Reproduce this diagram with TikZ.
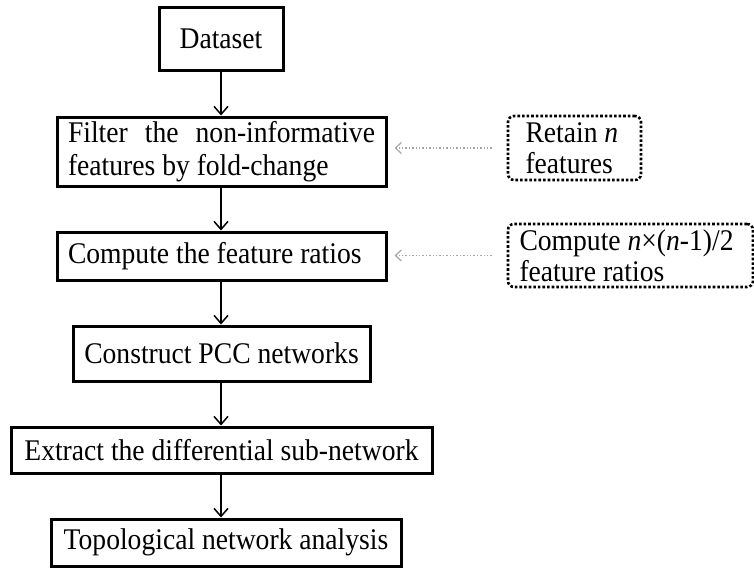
\documentclass[tikz,border=0pt]{standalone}
\usepackage{fontspec}
\setmainfont{Liberation Serif}[FakeStretch=0.92]
\usetikzlibrary{arrows.meta}
\begin{document}
\begin{tikzpicture}[x=1pt,y=1pt,
  stepbox/.style={draw=black,line width=3pt,inner sep=0pt,font=\fontsize{30}{34}\selectfont},
  notebox/.style={draw=black,line width=2.6pt,dotted,rounded corners=6pt,inner sep=0pt,font=\fontsize{30}{34}\selectfont},
  flow/.style={draw=black,line width=1.5pt,-{Straight Barb[length=8pt,width=14pt,line width=1.5pt]}},
  hint/.style={draw=gray!70,line width=1.4pt,dotted,-{Straight Barb[length=6pt,width=11pt,line width=1.2pt]}}
]
\useasboundingbox (0,0) rectangle (754,-568);
\node[stepbox,minimum width=124pt,minimum height=63pt] (ds) at (221,-38.5) {Dataset};
\node[stepbox,minimum width=329pt,minimum height=69pt] (filt) at (221.5,-151.5)
  {\parbox{307pt}{\baselineskip=33pt Filter\hfill the\hfill non-informative\\features by fold-change}};
\node[stepbox,minimum width=329pt,minimum height=48pt] (ratio) at (221.5,-256)
  {\makebox[307pt][l]{Compute the feature ratios}};
\node[stepbox,minimum width=297pt,minimum height=55pt] (pcc) at (221.5,-353.5) {Construct PCC networks};
\node[stepbox,minimum width=421pt,minimum height=46pt] (diff) at (221.5,-450) {Extract the differential sub-network};
\node[stepbox,minimum width=350pt,minimum height=47pt] (topo) at (226,-542.5) {Topological network analysis};
\node[notebox,minimum width=133pt,minimum height=64pt] (retain) at (574.5,-148)
  {\parbox{98pt}{\baselineskip=31pt Retain \textit{n}\\features}};
\node[notebox,minimum width=245pt,minimum height=63pt] (cnote) at (630.5,-255.5)
  {\parbox{222pt}{\baselineskip=31pt Compute \textit{n}×(\textit{n}-1)/2\\feature ratios}};
\draw[flow] (ds.south) -- (ds.south |- filt.north);
\draw[flow] (ds.south |- filt.south) -- (ds.south |- ratio.north);
\draw[flow] (ds.south |- ratio.south) -- (ds.south |- pcc.north);
\draw[flow] (ds.south |- pcc.south) -- (ds.south |- diff.north);
\draw[flow] (ds.south |- diff.south) -- (ds.south |- topo.north);
\draw[hint,shorten <=15pt,shorten >=7pt] (retain.west) -- (retain.west -| filt.east);
\draw[hint,shorten <=15pt,shorten >=7pt] (cnote.west) -- (cnote.west -| ratio.east);
\end{tikzpicture}
\end{document}
